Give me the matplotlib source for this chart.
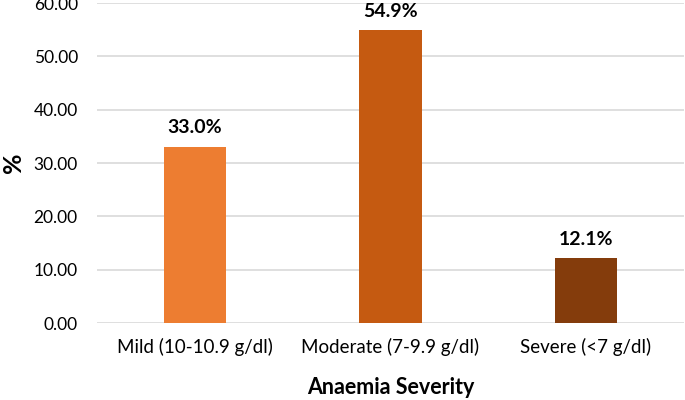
import matplotlib
matplotlib.use("Agg")
import matplotlib.pyplot as plt

# data
categories = ["Mild (10-10.9 g/dl)", "Moderate (7-9.9 g/dl)", "Severe (<7 g/dl)"]
percent = [33.0, 54.9, 12.1]
bar_colors = ["#ED7D31", "#C55A11", "#843C0C"]
yticks = [0, 10, 20, 30, 40, 50, 60]

plt.rcParams['font.family'] = ['Lato', 'DejaVu Sans']

fig = plt.figure(figsize=(6.85, 4.0), dpi=100)
ax = fig.add_axes([0.142, 0.1925, 0.856, 0.80])

x = range(len(categories))
bars = ax.bar(x, percent, width=0.32, color=bar_colors, zorder=3)

for b, v in zip(bars, percent):
    ax.text(b.get_x() + b.get_width() / 2, v + 2.0, f"{v:.1f}%",
            ha="center", va="bottom", fontsize=14, fontweight="bold", color="black")

ax.set_ylim(0, 60)
ax.set_xlim(-0.5, 2.5)
ax.set_yticks(yticks)
ax.set_yticklabels([f"{t:.2f}" for t in yticks], fontsize=12.5)
ax.set_xticks(list(x))
ax.set_xticklabels(categories, fontsize=13.5)
ax.tick_params(axis="x", length=0, pad=11)
ax.tick_params(axis="y", length=0, pad=14)

ax.yaxis.grid(True, color="#D9D9D9", linewidth=1.2, zorder=0)
for s in ax.spines.values():
    s.set_visible(False)

ax.set_ylabel("%", fontsize=18, fontweight="bold")
ax.yaxis.set_label_coords(-0.124, 0.5)
ax.set_xlabel("Anaemia Severity", fontsize=15.5, fontweight="bold", labelpad=15)

fig.savefig("out.png", dpi=100)
